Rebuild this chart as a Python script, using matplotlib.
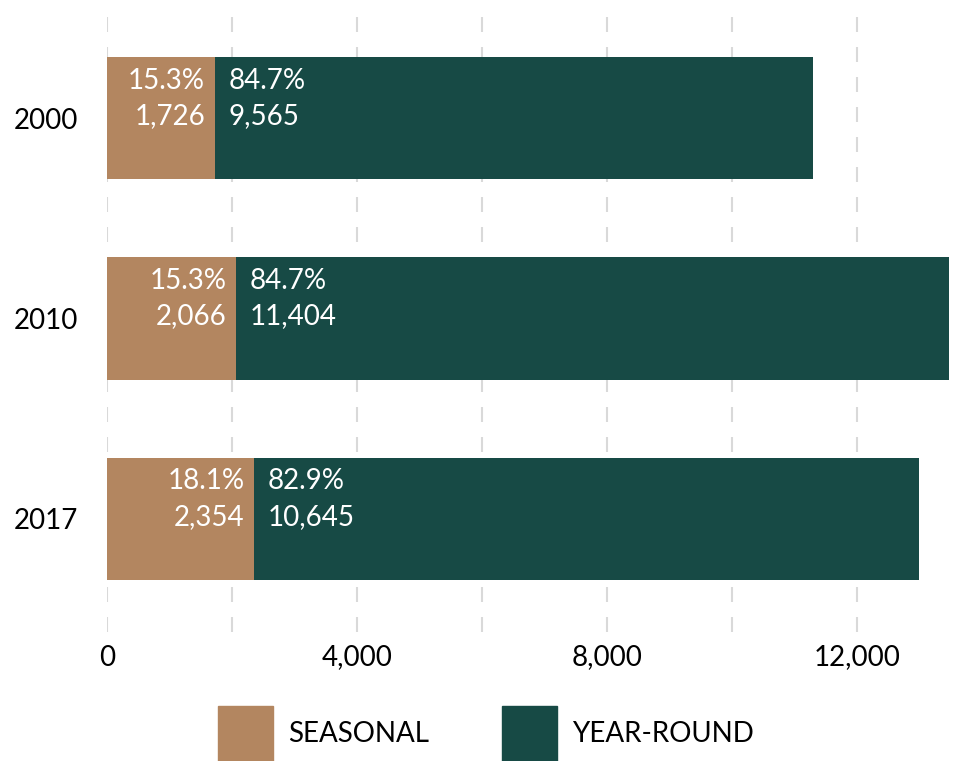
import matplotlib.pyplot as plt
from matplotlib.patches import Patch
from matplotlib.ticker import FuncFormatter

plt.rcParams['font.family'] = ['Lato', 'DejaVu Sans']
plt.rcParams['lines.scale_dashes'] = False

# Seasonal vs year-round counts by year
years = ['2000', '2010', '2017']
seasonal = [1726, 2066, 2354]
year_round = [9565, 11404, 10645]
seasonal_pct = ['15.3%', '15.3%', '18.1%']
year_round_pct = ['84.7%', '84.7%', '82.9%']

c_seasonal = '#B38660'
c_year = '#174A45'

fig = plt.figure(figsize=(9.8, 7.61), dpi=100)
ax = fig.add_axes([107 / 980, 1 - 632 / 761, 875 / 980, 622 / 761])

pos = list(range(len(years)))
ax.barh(pos, seasonal, height=0.613, color=c_seasonal, zorder=3)
ax.barh(pos, year_round, left=seasonal, height=0.613, color=c_year, zorder=3)

# dashed vertical gridlines
for gx in range(0, 14001, 2000):
    ax.axvline(gx, color='#d9d9d9', lw=1.5, dashes=(10.8, 10.8), zorder=1)

fs = 20
for i in pos:
    s = seasonal[i]
    ax.annotate(seasonal_pct[i], (s, i), xytext=(-7, 27), textcoords='offset points',
                ha='right', va='center', color='white', fontsize=fs, zorder=4)
    ax.annotate(f'{s:,}', (s, i), xytext=(-7, 1.5), textcoords='offset points',
                ha='right', va='center', color='white', fontsize=fs, zorder=4)
    ax.annotate(year_round_pct[i], (s, i), xytext=(10, 27), textcoords='offset points',
                ha='left', va='center', color='white', fontsize=fs, zorder=4)
    ax.annotate(f'{year_round[i]:,}', (s, i), xytext=(10, 1.5), textcoords='offset points',
                ha='left', va='center', color='white', fontsize=fs, zorder=4)

ax.set_xlim(0, 14000)
ax.set_ylim(2.564, -0.539)
ax.set_yticks(pos)
ax.set_yticklabels(years)
ax.set_xticks([0, 4000, 8000, 12000])
ax.xaxis.set_major_formatter(FuncFormatter(lambda v, p: f'{int(v):,}'))
ax.tick_params(axis='both', length=0, labelsize=fs)
ax.tick_params(axis='x', pad=9)
ax.tick_params(axis='y', pad=21)
for sp in ax.spines.values():
    sp.set_visible(False)

handles = [Patch(color=c_seasonal, label='SEASONAL'), Patch(color=c_year, label='YEAR-ROUND')]
fig.legend(handles=handles, loc='center', bbox_to_anchor=(486 / 980, 1 - 734 / 761),
           ncol=2, frameon=False, fontsize=fs, handlelength=2.0, handleheight=2.75,
           handletextpad=0.55, columnspacing=2.6, borderpad=0)

fig.savefig('out.png', dpi=100)
